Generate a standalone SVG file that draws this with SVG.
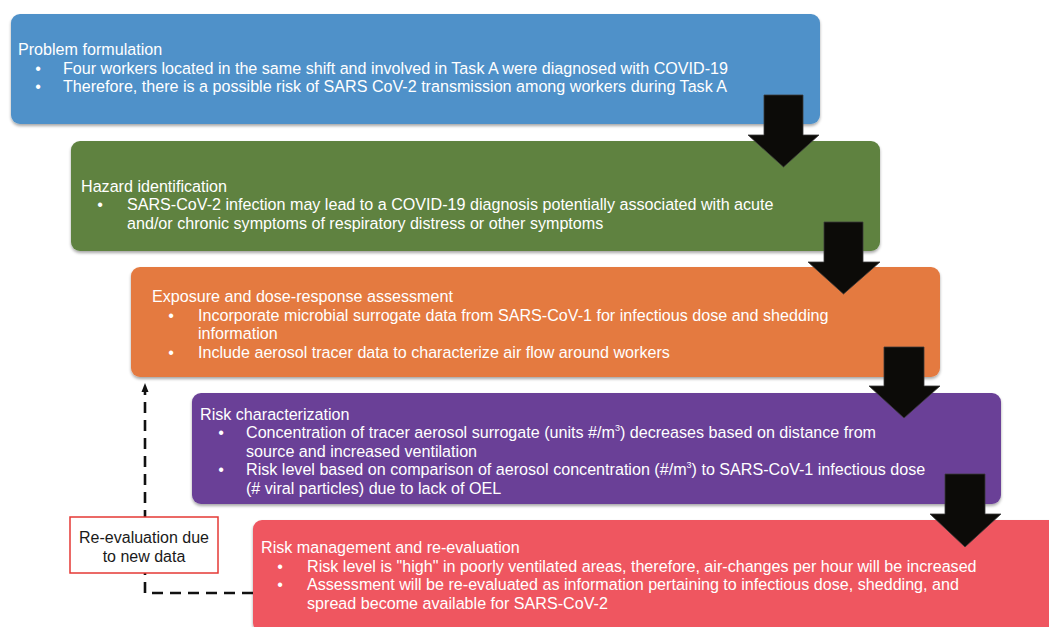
<svg xmlns="http://www.w3.org/2000/svg" width="1049" height="627" viewBox="0 0 1049 627">
<defs>
<filter id="sh" x="-5%" y="-10%" width="110%" height="130%">
<feDropShadow dx="0" dy="2" stdDeviation="1.8" flood-color="#000" flood-opacity="0.35"/>
</filter>
</defs>
<style>
.box{filter:url(#sh);}
.t{font-family:"Liberation Sans",Arial,Helvetica,sans-serif;font-size:16.13px;fill:#fff;}
.b{text-anchor:middle;}
.arr{fill:#0c0b08;stroke:#3a3a3a;stroke-width:0.8;}
.dash{fill:none;stroke:#111;stroke-width:2.6;stroke-dasharray:11 7;}
.lbl{font-family:"Liberation Sans",Arial,Helvetica,sans-serif;font-size:16px;fill:#1a1a1a;text-anchor:middle;}
</style>
<rect width="1049" height="627" fill="#fff"/>

<g id="problem-formulation">
<rect class="box" x="11" y="14" width="809" height="110" rx="9" fill="#5091c9"/>
<text class="t" x="18" y="54.5">Problem formulation</text>
<text class="t b" x="38" y="73.5">•</text>
<text class="t" x="63" y="73.5">Four workers located in the same shift and involved in Task A were diagnosed with COVID-19</text>
<text class="t b" x="38" y="92">•</text>
<text class="t" x="63" y="92">Therefore, there is a possible risk of SARS CoV-2 transmission among workers during Task A</text>
</g>

<g id="hazard-identification">
<rect class="box" x="71" y="141" width="809" height="110" rx="9" fill="#5e8241"/>
<text class="t" x="81" y="192">Hazard identification</text>
<text class="t b" x="100" y="210">•</text>
<text class="t" x="127" y="210">SARS-CoV-2 infection may lead to a COVID-19 diagnosis potentially associated with acute</text>
<text class="t" x="127" y="228.5">and/or chronic symptoms of respiratory distress or other symptoms</text>
</g>

<g id="exposure-assessment">
<rect class="box" x="131" y="267" width="809" height="110" rx="9" fill="#e47a41"/>
<text class="t" x="152" y="302">Exposure and dose-response assessment</text>
<text class="t b" x="171" y="320.5">•</text>
<text class="t" x="198" y="320.5">Incorporate microbial surrogate data from SARS-CoV-1 for infectious dose and shedding</text>
<text class="t" x="198" y="339">information</text>
<text class="t b" x="171" y="357.5">•</text>
<text class="t" x="198" y="357.5">Include aerosol tracer data to characterize air flow around workers</text>
</g>

<g id="risk-characterization">
<rect class="box" x="192" y="393" width="809" height="111" rx="9" fill="#6a4097"/>
<text class="t" x="200" y="419.5">Risk characterization</text>
<text class="t b" x="221" y="438">•</text>
<text class="t" x="246" y="438">Concentration of tracer aerosol surrogate (units #/m<tspan font-size="9" dy="-7">3</tspan><tspan dy="7">) decreases based on distance from</tspan></text>
<text class="t" x="246" y="456.5">source and increased ventilation</text>
<text class="t b" x="221" y="475">•</text>
<text class="t" x="246" y="475">Risk level based on comparison of aerosol concentration (#/m<tspan font-size="9" dy="-7">3</tspan><tspan dy="7">) to SARS-CoV-1 infectious dose</tspan></text>
<text class="t" x="246" y="493.5">(# viral particles) due to lack of OEL</text>
</g>

<g id="risk-management">
<rect class="box" x="253" y="520" width="809" height="112" rx="9" fill="#ef5660"/>
<text class="t" x="261" y="553">Risk management and re-evaluation</text>
<text class="t b" x="280" y="571.5">•</text>
<text class="t" x="307" y="571.5">Risk level is "high" in poorly ventilated areas, therefore, air-changes per hour will be increased</text>
<text class="t b" x="280" y="590">•</text>
<text class="t" x="307" y="590">Assessment will be re-evaluated as information pertaining to infectious dose, shedding, and</text>
<text class="t" x="307" y="608.5">spread become available for SARS-CoV-2</text>
</g>

<g id="connectors">
<polygon class="arr" points="764,95 803,95 803,135 819,135 783.5,167 748,135 764,135"/>
<polygon class="arr" points="824,222 863,222 863,262 880,262 843.5,294 808,262 824,262"/>
<polygon class="arr" points="884,347 924,347 924,386 940,386 904,418 869,386 884,386"/>
<polygon class="arr" points="945,474 985,474 985,514 1001,514 965,547 930,514 945,514"/>
<path class="dash" d="M253,593 L145,593 L145,391"/>
<polygon points="141.5,392 148.5,392 145,383" fill="#111"/>
</g>

<g id="re-evaluation-note">
<rect x="70" y="517" width="148" height="56" fill="#fff" stroke="#e53935" stroke-width="1.5"/>
<text class="lbl" x="144" y="543">Re-evaluation due</text>
<text class="lbl" x="144" y="562">to new data</text>
</g>
</svg>
